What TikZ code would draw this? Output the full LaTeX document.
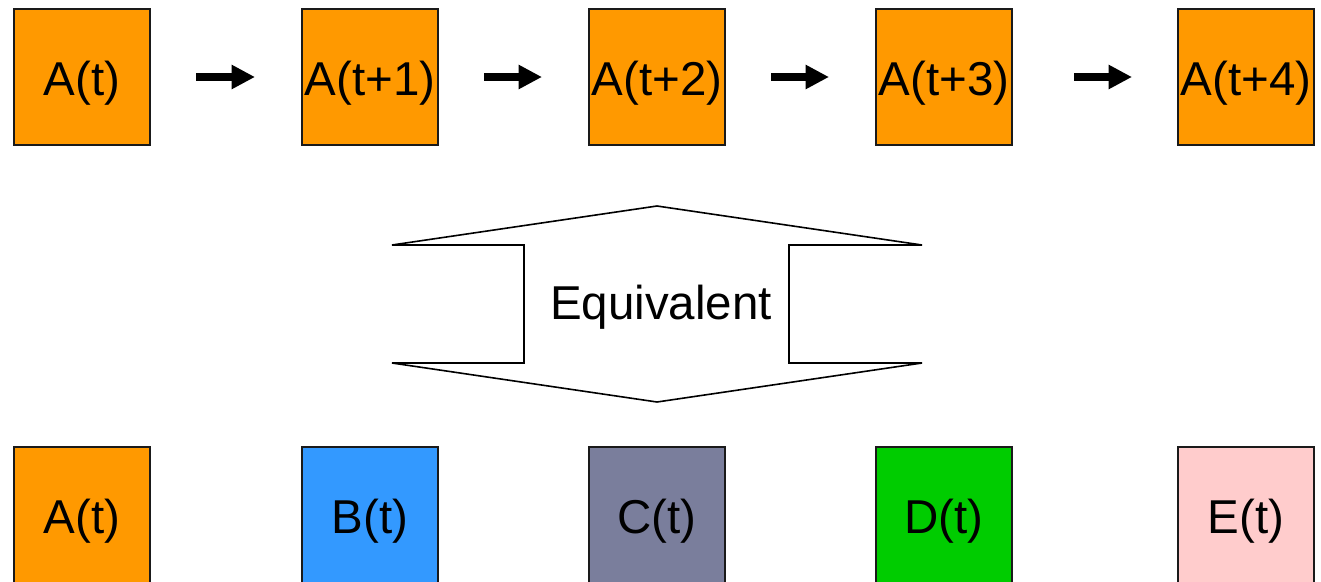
\documentclass[tikz,border=0pt]{standalone}
\usepackage{fontspec}
\setmainfont{Liberation Sans}
\usepackage{xcolor}
\usetikzlibrary{arrows.meta,positioning}
\definecolor{boxorange}{HTML}{FF9900}
\definecolor{boxblue}{HTML}{3399FF}
\definecolor{boxslate}{HTML}{7A7E9C}
\definecolor{boxgreen}{HTML}{00CC00}
\definecolor{boxpink}{HTML}{FFCCCC}
\definecolor{edgegray}{HTML}{1A1A1A}

\begin{document}
\begin{tikzpicture}[
  x=1pt,y=-1pt,
  bigtext/.style={font=\fontsize{47.5}{56}\selectfont,text height=40pt,text depth=4pt,inner sep=0pt},
  state/.style={bigtext,draw=edgegray,line width=2pt,minimum size=136pt,fill=#1},
  fatarrow/.style={-{Triangle[length=23.5pt,width=23pt]},line width=7.5pt},
  outline/.style={draw,line width=1.6pt,line join=miter,fill=white}
]
  \clip (0,0) rectangle (1321,581);

  % top row: one state over time
  \node[state=boxorange] (a0) at (82,77) {A(t)};
  \node[state=boxorange] (a1) at (370,77) {A(t+1)};
  \node[state=boxorange] (a2) at (657,77) {A(t+2)};
  \node[state=boxorange] (a3) at (944,77) {A(t+3)};
  \node[state=boxorange] (a4) at (1246,77) {A(t+4)};

  \foreach \i/\j/\s/\e in {0/1/45/46,1/2/45/46,2/3/45/46,3/4/61/45}
    \draw[fatarrow] ([xshift=\s pt]a\i.east) -- ([xshift=-\e pt]a\j.west);

  % double arrow in the middle
  \draw[outline] (392,245) -- (657,206) -- (922,245) -- (789,245) -- (789,363)
    -- (922,363) -- (657,402) -- (392,363) -- (524,363) -- (524,245) -- cycle;
  \node[bigtext] (equiv) at (661,301) {Equivalent};

  % bottom row: several states at one time
  \node[state=boxorange] (sa) at (82,515) {A(t)};
  \node[state=boxblue] (sb) at (370,515) {B(t)};
  \node[state=boxslate] (sc) at (657,515) {C(t)};
  \node[state=boxgreen] (sd) at (944,515) {D(t)};
  \node[state=boxpink] (se) at (1246,515) {E(t)};
\end{tikzpicture}
\end{document}
